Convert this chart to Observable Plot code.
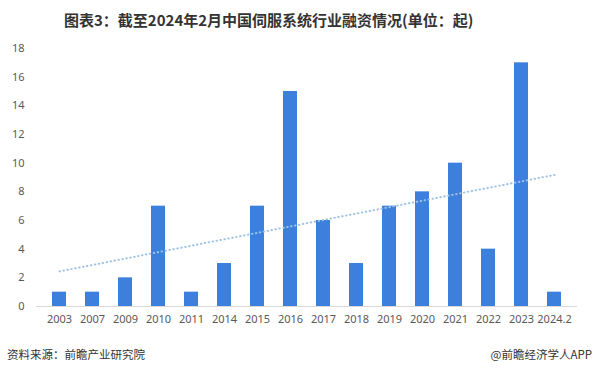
<!DOCTYPE html>
<html><head><meta charset="utf-8">
<script src="https://cdn.jsdelivr.net/npm/d3@7"></script>
<script src="https://cdn.jsdelivr.net/npm/@observablehq/plot@0.6"></script>
<style>
body{margin:0;background:#fff;font-family:"Noto Sans CJK SC","Noto Sans",sans-serif;}
#wrap{width:596px;height:378px;position:relative;overflow:hidden;}
#title{height:40px;line-height:40px;padding-left:64px;font-size:15px;font-weight:bold;color:#333;white-space:nowrap;}
#foot{position:absolute;left:0;top:346px;width:596px;font-size:11.5px;color:#333;}
#foot .l{position:absolute;left:7px;}
#foot .r{position:absolute;right:4px;}
</style></head><body>
<div id="wrap">
<div id="title">图表3：截至2024年2月中国伺服系统行业融资情况(单位：起)</div>
<div id="chart"></div>
<div id="foot"><span class="l">资料来源：前瞻产业研究院</span><span class="r">@前瞻经济学人APP</span></div>
</div>
<script>
const years = ["2003","2007","2009","2010","2011","2014","2015","2016","2017","2018","2019","2020","2021","2022","2023","2024.2"];
const counts = [1,1,2,7,1,3,7,15,6,3,7,8,10,4,17,1];
const yTicks = [0,2,4,6,8,10,12,14,16,18];

const data = years.map((y,i)=>({year:y, value:counts[i], i}));
// linear trend line (least squares over category index)
const mx = d3.mean(data, d=>d.i), my = d3.mean(data, d=>d.value);
const slope = d3.sum(data, d=>(d.i-mx)*(d.value-my)) / d3.sum(data, d=>(d.i-mx)**2);
const trend = data.map(d=>({year:d.year, value: my + slope*(d.i-mx)}));

const chart = Plot.plot({
  width:596, height:296,
  marginLeft:36, marginRight:19, marginTop:8, marginBottom:30,
  style:{fontFamily:"'Noto Sans', 'DejaVu Sans', sans-serif", fontSize:"11px", color:"#595959", background:"#fff"},
  x:{type:"band", domain:years, paddingInner:0.59, paddingOuter:0.295, label:null, tickSize:0, tickPadding:9},
  y:{domain:[0,18], ticks:yTicks, label:null, tickSize:0, tickPadding:12},
  marks:[
    Plot.barY(data,{x:"year", y:"value", fill:"#3C7FDD"}),
    Plot.ruleY([0],{stroke:"#d9d9d9"}),
    Plot.line(trend,{x:"year", y:"value", stroke:"#9DC3E6", strokeWidth:2, strokeDasharray:"0.5,3.5", strokeLinecap:"round"})
  ]
});
document.getElementById("chart").appendChild(chart);
</script>
</body></html>
